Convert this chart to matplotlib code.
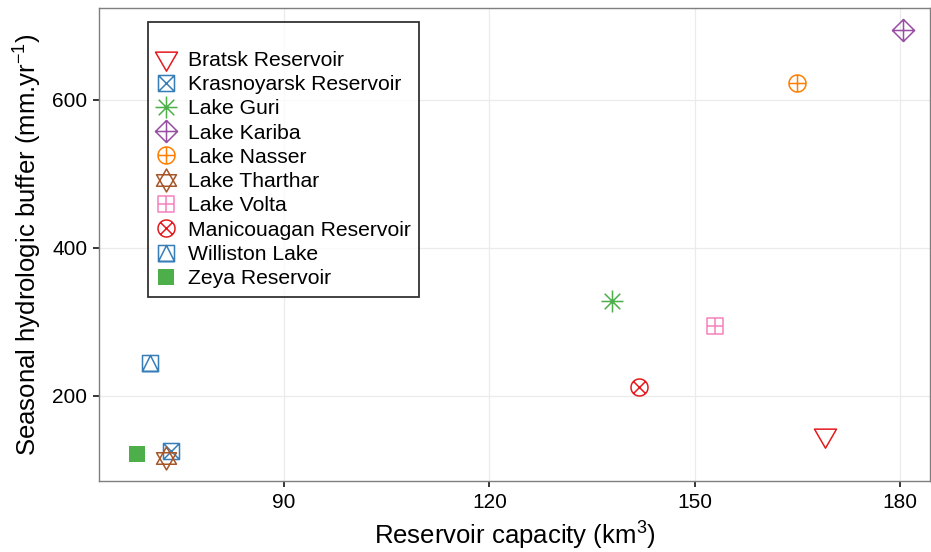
import numpy as np
import matplotlib
matplotlib.use('agg')
import matplotlib.pyplot as plt
from matplotlib.path import Path

plt.rcParams['font.family'] = ['Liberation Sans', 'DejaVu Sans']
plt.rcParams['mathtext.fontset'] = 'custom'
plt.rcParams['mathtext.rm'] = 'Liberation Sans'

reservoirs = ['Bratsk Reservoir', 'Krasnoyarsk Reservoir', 'Lake Guri', 'Lake Kariba',
              'Lake Nasser', 'Lake Tharthar', 'Lake Volta', 'Manicouagan Reservoir',
              'Williston Lake', 'Zeya Reservoir']
capacity = [169.1, 73.4, 137.9, 180.4, 164.9, 72.8, 153.0, 141.8, 70.4, 68.5]
buffer_mm = [147, 125, 329, 695, 623, 116, 295, 212, 245, 122]

colors = ['#E41A1C', '#377EB8', '#4DAF4A', '#984EA3', '#FF7F00',
          '#A65628', '#F781BF', '#E41A1C', '#377EB8', '#4DAF4A']


# marker shapes, drawn in pixel units around the centre
def poly(pts):
    return Path(pts + [pts[0]], closed=True)


def seg(x0, y0, x1, y1):
    return Path([(x0, y0), (x1, y1)])


def circle(r):
    t = np.linspace(0, 2 * np.pi, 60)
    return Path(np.column_stack([r * np.cos(t), r * np.sin(t)]), closed=True)


def compound(*paths):
    return Path.make_compound_path(*paths)


s = 8.0
sq = [(-s, -s), (s, -s), (s, s), (-s, s)]
tri_down = poly([(-11, 6.35), (11, 6.35), (0, -12.7)])
sq_x = compound(poly(sq), seg(-s, -s, s, s), seg(-s, s, s, -s))
d = 11.0
star8 = compound(seg(-d, 0, d, 0), seg(0, -d, 0, d),
                 seg(-d * .707, -d * .707, d * .707, d * .707),
                 seg(-d * .707, d * .707, d * .707, -d * .707))
diam_plus = compound(poly([(0, d), (d, 0), (0, -d), (-d, 0)]), seg(-d, 0, d, 0), seg(0, -d, 0, d))
r = 8.5
circ_plus = compound(circle(r), seg(-r, 0, r, 0), seg(0, -r, 0, r))
q = 11.5
david = compound(poly([(0, q), (-q * .866, -q * .5), (q * .866, -q * .5)]),
                 poly([(0, -q), (-q * .866, q * .5), (q * .866, q * .5)]))
sq_plus = compound(poly(sq), seg(-s, 0, s, 0), seg(0, -s, 0, s))
circ_x = compound(circle(r), seg(-r * .707, -r * .707, r * .707, r * .707),
                  seg(-r * .707, r * .707, r * .707, -r * .707))
sq_tri = compound(poly(sq), poly([(-s, -s), (s, -s), (0, s)]))
shapes = [tri_down, sq_x, star8, diam_plus, circ_plus, david, sq_plus, circ_x, sq_tri, None]


def ms_of(path):
    return 2 * np.max(np.abs(path.vertices)) * 0.72


fig = plt.figure(figsize=(9.31, 5.52), dpi=100)
ax = fig.add_axes([99 / 931, 71 / 552, 831 / 931, 473 / 552])

for i, name in enumerate(reservoirs):
    if shapes[i] is None:
        ax.plot(capacity[i], buffer_mm[i], marker='s', ls='none', ms=16 * 0.72,
                mfc=colors[i], mec=colors[i], mew=0, label=name, zorder=3)
    else:
        ax.plot(capacity[i], buffer_mm[i], marker=shapes[i], ls='none', ms=ms_of(shapes[i]),
                mfc='none', mec=colors[i], mew=1.1, label=name, zorder=3)

ax.set_xlim(62.95, 184.4)
ax.set_ylim(85.1, 724.3)
ax.set_xticks([90, 120, 150, 180])
ax.set_yticks([200, 400, 600])
ax.grid(True, color='#EBEBEB', lw=0.9)
ax.set_axisbelow(True)
for sp in ax.spines.values():
    sp.set_color('#7F7F7F')
    sp.set_linewidth(1.0)
ax.tick_params(length=4.3, width=1.1, color='black', labelsize=15, labelcolor='black', pad=4)

ax.set_xlabel('Reservoir capacity (km$^{\\mathregular{3}}$)', fontsize=18.5, labelpad=5)
ax.set_ylabel('Seasonal hydrologic buffer (mm.yr$^{\\mathregular{-1}}$)', fontsize=18.5, labelpad=7)

leg = ax.legend(loc='upper left', bbox_to_anchor=(49 / 831, (481 - 22) / 473), borderaxespad=0,
                title=' ', title_fontsize=12, fontsize=15.2, frameon=True, fancybox=False,
                edgecolor='black', labelspacing=0.25, handlelength=0.9, handletextpad=0.6,
                borderpad=0.4, alignment='left')
leg.get_frame().set_linewidth(1.3)

plt.savefig('out.png', dpi=100)
